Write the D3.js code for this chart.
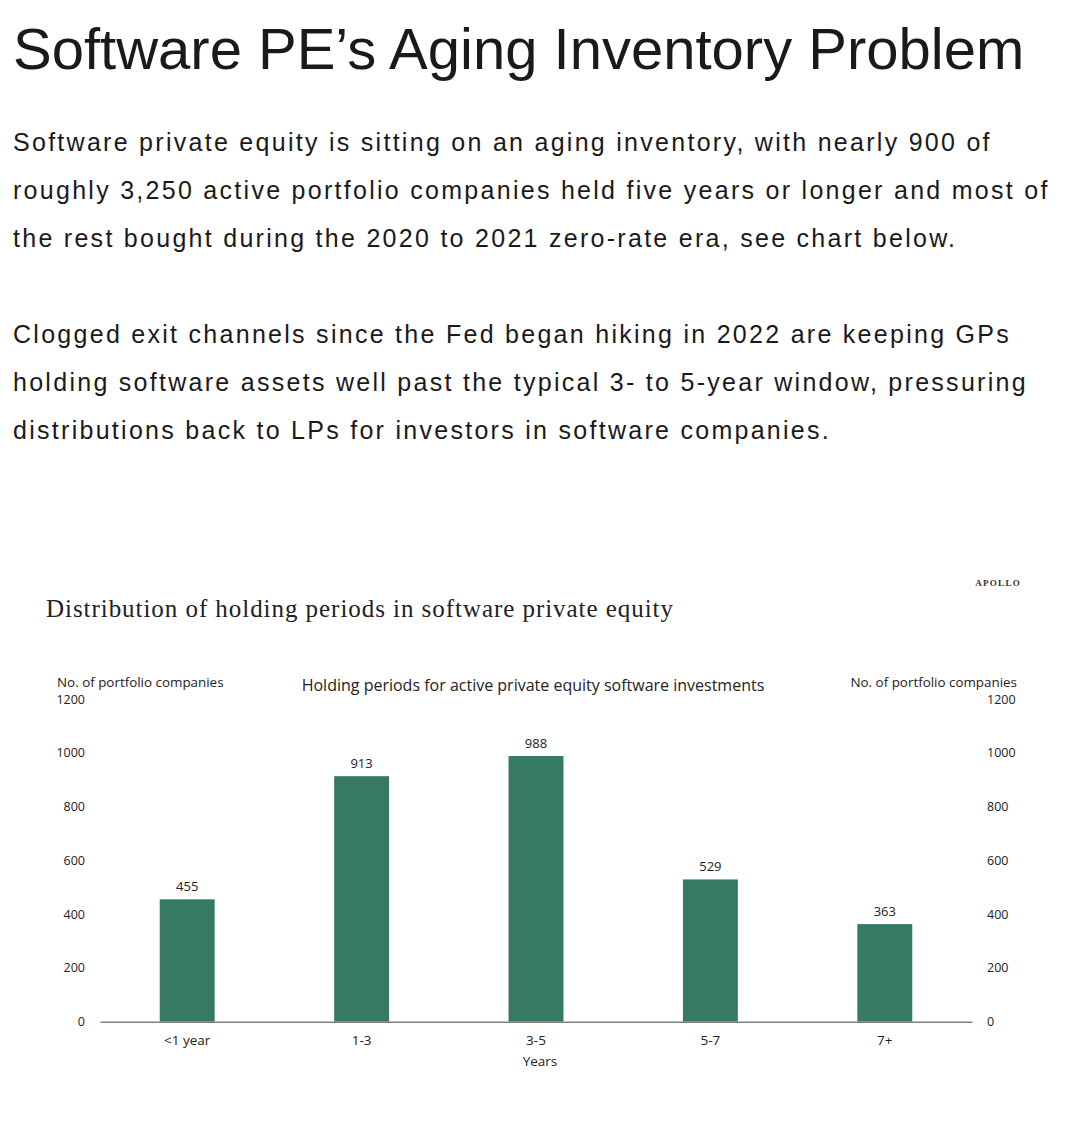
<!DOCTYPE html>
<html>
<head>
<meta charset="utf-8">
<script src="https://cdn.jsdelivr.net/npm/d3@7"></script>
<style>
  html, body { margin: 0; padding: 0; background: #fff; }
  svg { display: block; }
</style>
</head>
<body>
<svg id="chart" width="1078" height="1122"></svg>
<script>
// ---- data ----
const categories = ["<1 year", "1-3", "3-5", "5-7", "7+"];
const companies = [455, 913, 988, 529, 363];
const yTicks = [0, 200, 400, 600, 800, 1000, 1200];

const headline = "Software PE\u2019s Aging Inventory Problem";
const paragraph1 = [
  "Software private equity is sitting on an aging inventory, with nearly 900 of",
  "roughly 3,250 active portfolio companies held five years or longer and most of",
  "the rest bought during the 2020 to 2021 zero-rate era, see chart below."
];
const paragraph2 = [
  "Clogged exit channels since the Fed began hiking in 2022 are keeping GPs",
  "holding software assets well past the typical 3- to 5-year window, pressuring",
  "distributions back to LPs for investors in software companies."
];
const chartTitle = "Distribution of holding periods in software private equity";
const chartSubtitle = "Holding periods for active private equity software investments";
const yAxisLabel = "No. of portfolio companies";
const xAxisLabel = "Years";
const brand = "APOLLO";

// ---- drawing ----
const svg = d3.select("#chart");
const sans = "'Liberation Sans', Arial, Helvetica, sans-serif";
const ui = "'Open Sans', 'Noto Sans', sans-serif";
const serif = "'Liberation Serif', 'Times New Roman', serif";
const ink = "#222";

svg.append("text").attr("x", 13).attr("y", 69)
  .attr("font-family", sans).attr("font-size", 58).attr("fill", "#1a1a1a")
  .text(headline);

const body = svg.append("g").attr("font-family", sans).attr("font-size", 25)
  .attr("fill", "#1a1a1a").attr("letter-spacing", 2.28);
paragraph1.forEach((t, i) => body.append("text").attr("x", 13).attr("y", 151 + i * 48).text(t));
paragraph2.forEach((t, i) => body.append("text").attr("x", 13).attr("y", 343 + i * 48).text(t));

svg.append("text").attr("x", 1021).attr("y", 586).attr("text-anchor", "end")
  .attr("font-family", serif).attr("font-size", 9).attr("letter-spacing", 1.3)
  .attr("font-weight", "bold").attr("fill", "#333").text(brand);

svg.append("text").attr("x", 46).attr("y", 617)
  .attr("font-family", serif).attr("font-size", 25).attr("letter-spacing", 0.95).attr("fill", ink)
  .text(chartTitle);

// scales
const x = d3.scaleBand().domain(categories).range([100, 972]).paddingInner(0.685).paddingOuter(0.3425);
const y = d3.scaleLinear().domain([0, 1200]).range([1021.7, 699]);

const chart = svg.append("g");

// left axis
const leftAxis = chart.append("g").attr("transform", "translate(100,0)")
  .call(d3.axisLeft(y).tickValues(yTicks).tickFormat(d3.format("d")).tickSize(0).tickPadding(15));
leftAxis.select(".domain").remove();
leftAxis.selectAll("text").attr("font-family", ui).attr("font-size", 12.5).attr("fill", ink);

// right axis
const rightAxis = chart.append("g").attr("transform", "translate(972,0)")
  .call(d3.axisRight(y).tickValues(yTicks).tickFormat(d3.format("d")).tickSize(0).tickPadding(15));
rightAxis.select(".domain").remove();
rightAxis.selectAll("text").attr("font-family", ui).attr("font-size", 12.5).attr("fill", ink);

// axis titles
chart.append("text").attr("x", 57).attr("y", 687).attr("font-family", ui).attr("font-size", 13.4)
  .attr("fill", ink).text(yAxisLabel);
chart.append("text").attr("x", 1017).attr("y", 687).attr("text-anchor", "end").attr("font-family", ui)
  .attr("font-size", 13.4).attr("fill", ink).text(yAxisLabel);
chart.append("text").attr("x", 533).attr("y", 691).attr("text-anchor", "middle").attr("font-family", ui)
  .attr("font-size", 16).attr("fill", ink).text(chartSubtitle);

// bars
chart.selectAll("rect.bar").data(categories).join("rect").attr("class", "bar")
  .attr("x", d => x(d)).attr("width", x.bandwidth())
  .attr("y", (d, i) => y(companies[i])).attr("height", (d, i) => y(0) - y(companies[i]))
  .attr("fill", "#367965");

// value labels
chart.selectAll("text.val").data(categories).join("text").attr("class", "val")
  .attr("x", d => x(d) + x.bandwidth() / 2).attr("y", (d, i) => y(companies[i]) - 8)
  .attr("text-anchor", "middle").attr("font-family", ui).attr("font-size", 13).attr("fill", ink)
  .text((d, i) => companies[i]);

// x axis
const bottomAxis = chart.append("g").attr("transform", `translate(0,${y(0)})`)
  .call(d3.axisBottom(x).tickSize(0).tickPadding(14));
bottomAxis.select(".domain").attr("stroke", "#808080").attr("stroke-width", 1.5);
bottomAxis.selectAll("text").attr("font-family", ui).attr("font-size", 13.5).attr("fill", ink);

chart.append("text").attr("x", 540).attr("y", 1066).attr("text-anchor", "middle").attr("font-family", ui)
  .attr("font-size", 13.5).attr("fill", ink).text(xAxisLabel);
</script>
</body>
</html>
